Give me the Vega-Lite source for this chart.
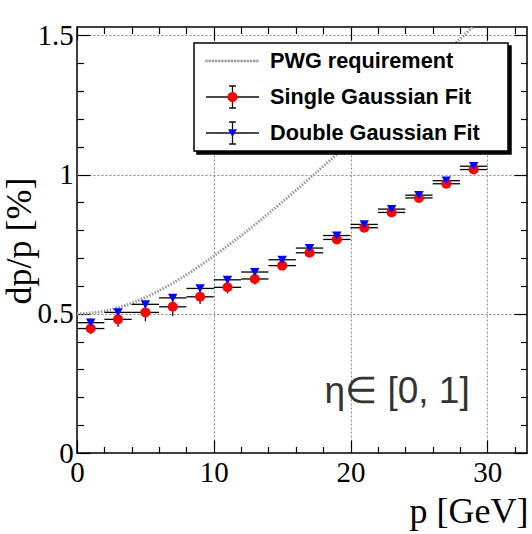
{
  "$schema": "https://vega.github.io/schema/vega-lite/v6.json",
  "width": 450,
  "height": 426,
  "autosize": "none",
  "padding": {"left": 77, "top": 27, "right": 5, "bottom": 81},
  "background": "white",
  "datasets": {
    "curve": [
      {"p": 0, "v": 0.5}, {"p": 1, "v": 0.5025}, {"p": 2, "v": 0.5099}, {"p": 3, "v": 0.522},
      {"p": 4, "v": 0.5385}, {"p": 5, "v": 0.559}, {"p": 6, "v": 0.5831}, {"p": 7, "v": 0.6103},
      {"p": 8, "v": 0.6403}, {"p": 9, "v": 0.6727}, {"p": 10, "v": 0.7071}, {"p": 11, "v": 0.7433},
      {"p": 12, "v": 0.781}, {"p": 13, "v": 0.8201}, {"p": 14, "v": 0.8602}, {"p": 15, "v": 0.9014},
      {"p": 16, "v": 0.9434}, {"p": 17, "v": 0.9862}, {"p": 18, "v": 1.0296}, {"p": 19, "v": 1.0735},
      {"p": 20, "v": 1.118}, {"p": 21, "v": 1.163}, {"p": 22, "v": 1.2083}, {"p": 23, "v": 1.254},
      {"p": 24, "v": 1.3}, {"p": 25, "v": 1.3463}, {"p": 26, "v": 1.3928}, {"p": 27, "v": 1.4396},
      {"p": 28, "v": 1.4866}, {"p": 29, "v": 1.5338}, {"p": 30, "v": 1.5811}
    ],
    "points": [
      {"series": "Single Gaussian Fit", "p": 1, "w": 1, "v": 0.447, "e": 0.02},
      {"series": "Single Gaussian Fit", "p": 3, "w": 1, "v": 0.48, "e": 0.027},
      {"series": "Single Gaussian Fit", "p": 5, "w": 1, "v": 0.505, "e": 0.032},
      {"series": "Single Gaussian Fit", "p": 7, "w": 1, "v": 0.525, "e": 0.034},
      {"series": "Single Gaussian Fit", "p": 9, "w": 1, "v": 0.561, "e": 0.026},
      {"series": "Single Gaussian Fit", "p": 11, "w": 1, "v": 0.595, "e": 0.022},
      {"series": "Single Gaussian Fit", "p": 13, "w": 1, "v": 0.625, "e": 0.02},
      {"series": "Single Gaussian Fit", "p": 15, "w": 1, "v": 0.673, "e": 0.015},
      {"series": "Single Gaussian Fit", "p": 17, "w": 1, "v": 0.719, "e": 0.013},
      {"series": "Single Gaussian Fit", "p": 19, "w": 1, "v": 0.767, "e": 0.011},
      {"series": "Single Gaussian Fit", "p": 21, "w": 1, "v": 0.809, "e": 0.01},
      {"series": "Single Gaussian Fit", "p": 23, "w": 1, "v": 0.864, "e": 0.01},
      {"series": "Single Gaussian Fit", "p": 25, "w": 1, "v": 0.916, "e": 0.009},
      {"series": "Single Gaussian Fit", "p": 27, "w": 1, "v": 0.967, "e": 0.009},
      {"series": "Single Gaussian Fit", "p": 29, "w": 1, "v": 1.018, "e": 0.009},
      {"series": "Double Gaussian Fit", "p": 1, "w": 1, "v": 0.468, "e": 0.015},
      {"series": "Double Gaussian Fit", "p": 3, "w": 1, "v": 0.505, "e": 0.013},
      {"series": "Double Gaussian Fit", "p": 5, "w": 1, "v": 0.534, "e": 0.012},
      {"series": "Double Gaussian Fit", "p": 7, "w": 1, "v": 0.557, "e": 0.012},
      {"series": "Double Gaussian Fit", "p": 9, "w": 1, "v": 0.591, "e": 0.011},
      {"series": "Double Gaussian Fit", "p": 11, "w": 1, "v": 0.622, "e": 0.011},
      {"series": "Double Gaussian Fit", "p": 13, "w": 1, "v": 0.65, "e": 0.01},
      {"series": "Double Gaussian Fit", "p": 15, "w": 1, "v": 0.694, "e": 0.01},
      {"series": "Double Gaussian Fit", "p": 17, "w": 1, "v": 0.736, "e": 0.009},
      {"series": "Double Gaussian Fit", "p": 19, "w": 1, "v": 0.781, "e": 0.009},
      {"series": "Double Gaussian Fit", "p": 21, "w": 1, "v": 0.821, "e": 0.008},
      {"series": "Double Gaussian Fit", "p": 23, "w": 1, "v": 0.876, "e": 0.008},
      {"series": "Double Gaussian Fit", "p": 25, "w": 1, "v": 0.926, "e": 0.008},
      {"series": "Double Gaussian Fit", "p": 27, "w": 1, "v": 0.978, "e": 0.008},
      {"series": "Double Gaussian Fit", "p": 29, "w": 1, "v": 1.03, "e": 0.008}
    ]
  },
  "layer": [
    {
      "data": {"values": []},
      "mark": {"type": "point", "filled": true, "opacity": 1},
      "encoding": {
        "shape": {
          "field": "series", "type": "nominal",
          "scale": {"domain": ["PWG requirement", "Single Gaussian Fit", "Double Gaussian Fit"], "range": ["circle", "circle", "circle"]},
          "legend": {"title": null, "orient": "none", "legendX": 120, "legendY": 19, "fillColor": "black", "strokeColor": "black", "symbolOpacity": 0, "labelOffset": 243, "labelExpr": "''"}
        }
      }
    },
    {
      "data": {"values": []},
      "mark": {"type": "point", "filled": true, "opacity": 1},
      "encoding": {
        "shape": {
          "field": "series", "type": "nominal",
          "scale": {"domain": ["PWG requirement", "Single Gaussian Fit", "Double Gaussian Fit"], "range": ["square", "square", "square"]},
          "legend": {"title": null, "orient": "none", "legendX": 117, "legendY": 16, "fillColor": "white", "strokeColor": "black", "symbolOpacity": 0, "labelOffset": 243, "labelExpr": "''"}
        }
      }
    },
    {
      "data": {"name": "curve"},
      "mark": {"type": "line", "stroke": "#9a9a9a", "strokeWidth": 3, "strokeDash": [1.5, 1.5], "clip": true, "interpolate": "monotone"},
      "encoding": {
        "x": {
          "field": "p", "type": "quantitative",
          "scale": {"domain": [0, 32.9], "nice": false, "zero": false},
          "axis": {
            "orient": "bottom",
            "values": [0, 2, 4, 6, 8, 10, 12, 14, 16, 18, 20, 22, 24, 26, 28, 30, 32],
            "labelExpr": "datum.value % 10 === 0 ? datum.label : ''",
            "tickSize": {"condition": {"test": "datum.value % 10 === 0", "value": -13}, "value": -6.5},
            "grid": true,
            "gridOpacity": {"condition": {"test": "datum.value % 10 === 0 && datum.value > 0", "value": 1}, "value": 0},
            "labelPadding": 18.7,
            "labelFlush": false,
            "labelOverlap": false,
            "title": "p [GeV]",
            "titleAnchor": "end",
            "titleAlign": "right",
            "titleBaseline": "alphabetic",
            "titleX": 451,
            "titleY": 69
          }
        },
        "y": {
          "field": "v", "type": "quantitative",
          "scale": {"domain": [0, 1.53], "nice": false, "zero": false},
          "axis": {
            "orient": "left",
            "values": [0, 0.1, 0.2, 0.3, 0.4, 0.5, 0.6, 0.7, 0.8, 0.9, 1, 1.1, 1.2, 1.3, 1.4, 1.5],
            "labelExpr": "round(datum.value*10) % 5 === 0 ? format(datum.value, '.2~f') : ''",
            "tickSize": {"condition": {"test": "round(datum.value*10) % 5 === 0", "value": -13}, "value": -6.5},
            "grid": true,
            "gridOpacity": {"condition": {"test": "round(datum.value*10) % 5 === 0 && datum.value > 0", "value": 1}, "value": 0},
            "labelPadding": 16.8,
            "labelFlush": false,
            "labelOverlap": false,
            "title": "dp/p [%]",
            "titleAngle": 270,
            "titleAlign": "right",
            "titleBaseline": "alphabetic",
            "titleX": -47,
            "titleY": 150
          }
        }
      }
    },
    {
      "data": {"name": "points"},
      "mark": {"type": "errorbar", "color": "black", "thickness": 1.3},
      "encoding": {
        "x": {"field": "p", "type": "quantitative", "axis": null},
        "xError": {"field": "w"},
        "y": {"field": "v", "type": "quantitative", "axis": null}
      }
    },
    {
      "data": {"name": "points"},
      "mark": {"type": "errorbar", "color": "black", "thickness": 1.2},
      "encoding": {
        "x": {"field": "p", "type": "quantitative", "axis": null},
        "y": {"field": "v", "type": "quantitative", "axis": null},
        "yError": {"field": "e"}
      }
    },
    {
      "data": {"name": "points"},
      "transform": [{"filter": "datum.series === 'Single Gaussian Fit'"}],
      "mark": {"type": "point", "shape": "circle", "filled": true, "fill": "#ff0000", "size": 100, "strokeWidth": 0, "opacity": 1},
      "encoding": {
        "x": {
          "field": "p", "type": "quantitative",
          "axis": {
            "orient": "top",
            "values": [0, 2, 4, 6, 8, 10, 12, 14, 16, 18, 20, 22, 24, 26, 28, 30, 32],
            "tickSize": {"condition": {"test": "datum.value % 10 === 0", "value": -13}, "value": -6.5},
            "labels": false, "grid": false, "title": null
          }
        },
        "y": {
          "field": "v", "type": "quantitative",
          "axis": {
            "orient": "right",
            "values": [0, 0.1, 0.2, 0.3, 0.4, 0.5, 0.6, 0.7, 0.8, 0.9, 1, 1.1, 1.2, 1.3, 1.4, 1.5],
            "tickSize": {"condition": {"test": "round(datum.value*10) % 5 === 0", "value": -13}, "value": -6.5},
            "labels": false, "grid": false, "title": null
          }
        }
      }
    },
    {
      "data": {"name": "points"},
      "transform": [{"filter": "datum.series === 'Double Gaussian Fit'"}],
      "mark": {"type": "point", "shape": "triangle-down", "filled": true, "fill": "#0000ff", "size": 90, "strokeWidth": 0, "opacity": 1},
      "encoding": {
        "x": {"field": "p", "type": "quantitative", "axis": null},
        "y": {"field": "v", "type": "quantitative", "axis": null}
      }
    },
    {
      "data": {"values": []},
      "mark": {"type": "point", "filled": false, "opacity": 1},
      "encoding": {
        "shape": {
          "field": "series", "type": "nominal",
          "scale": {
            "domain": ["PWG requirement", "Single Gaussian Fit", "Double Gaussian Fit"],
            "range": [
              "M-1,-0.02h0.04v0.04h-0.04zM-0.88,-0.02h0.04v0.04h-0.04zM-0.76,-0.02h0.04v0.04h-0.04zM-0.64,-0.02h0.04v0.04h-0.04zM-0.52,-0.02h0.04v0.04h-0.04zM-0.4,-0.02h0.04v0.04h-0.04zM-0.28,-0.02h0.04v0.04h-0.04zM-0.16,-0.02h0.04v0.04h-0.04zM-0.04,-0.02h0.04v0.04h-0.04zM0.08,-0.02h0.04v0.04h-0.04zM0.2,-0.02h0.04v0.04h-0.04zM0.32,-0.02h0.04v0.04h-0.04zM0.44,-0.02h0.04v0.04h-0.04zM0.56,-0.02h0.04v0.04h-0.04zM0.68,-0.02h0.04v0.04h-0.04zM0.8,-0.02h0.04v0.04h-0.04zM0.92,-0.02h0.04v0.04h-0.04z",
              "M-1,0H1M0,-0.415V0.415M-0.13,-0.415H0.13M-0.13,0.415H0.13",
              "M-1,0H1M0,-0.415V0.415M-0.13,-0.415H0.13M-0.13,0.415H0.13"
            ]
          },
          "legend": {"title": null, "orient": "none", "legendX": 117, "legendY": 16, "fillColor": "transparent", "strokeColor": "transparent", "labelColor": "black", "symbolFillColor": "transparent", "symbolOpacity": 1, "labelFontSize": 21.7}
        },
        "stroke": {
          "field": "series", "type": "nominal",
          "scale": {"domain": ["PWG requirement", "Single Gaussian Fit", "Double Gaussian Fit"], "range": ["#9a9a9a", "#111111", "#111111"]},
          "legend": {"title": null, "orient": "none", "legendX": 117, "legendY": 16, "fillColor": "transparent", "strokeColor": "transparent", "labelColor": "black", "symbolFillColor": "transparent", "symbolOpacity": 1, "labelFontSize": 21.7}
        }
      }
    },
    {
      "data": {"values": []},
      "mark": {"type": "point", "filled": true, "opacity": 1},
      "encoding": {
        "shape": {
          "field": "series", "type": "nominal",
          "scale": {
            "domain": ["PWG requirement", "Single Gaussian Fit", "Double Gaussian Fit"],
            "range": [
              "M0,0",
              "M-0.19,0A0.19,0.19,0,1,0,0.19,0A0.19,0.19,0,1,0,-0.19,0Z",
              "M-0.17,-0.14L0.17,-0.14L0,0.15Z"
            ]
          },
          "legend": {"title": null, "orient": "none", "legendX": 117, "legendY": 16, "symbolStrokeColor": "transparent", "symbolOpacity": 1, "labelExpr": "''"}
        },
        "fill": {
          "field": "series", "type": "nominal",
          "scale": {"domain": ["PWG requirement", "Single Gaussian Fit", "Double Gaussian Fit"], "range": ["transparent", "#ff0000", "#0000ff"]},
          "legend": {"title": null, "orient": "none", "legendX": 117, "legendY": 16, "symbolStrokeColor": "transparent", "symbolOpacity": 1, "labelExpr": "''"}
        }
      }
    },
    {
      "data": {"values": [{"label": "η∈ [0, 1]"}]},
      "mark": {"type": "text", "font": "Liberation Sans", "fontSize": 37, "align": "left", "baseline": "alphabetic", "color": "#333333"},
      "encoding": {
        "text": {"field": "label", "type": "nominal"},
        "x": {"datum": 18.1, "type": "quantitative", "axis": null},
        "y": {"datum": 0.18, "type": "quantitative", "axis": null}
      }
    }
  ],
  "resolve": {
    "scale": {"shape": "independent", "fill": "independent", "stroke": "independent"},
    "axis": {"x": "independent", "y": "independent"}
  },
  "config": {
    "view": {"stroke": "black", "strokeWidth": 1.5},
    "axis": {
      "domain": false,
      "labelFont": "Liberation Serif",
      "labelFontSize": 29,
      "labelColor": "black",
      "titleFont": "Liberation Serif",
      "titleFontSize": 36,
      "titleFontWeight": "normal",
      "titleColor": "black",
      "tickColor": "black",
      "tickWidth": 1.2,
      "gridColor": "#888888",
      "gridDash": [2, 2],
      "gridWidth": 1
    },
    "legend": {
      "labelFont": "Liberation Sans",
      "labelFontWeight": "bold",
      "labelFontSize": 21,
      "labelLimit": 400,
      "symbolSize": 2809,
      "symbolStrokeWidth": 1.3,
      "clipHeight": 26,
      "padding": 5,
      "rowPadding": 10,
      "symbolOffset": 6,
      "labelOffset": 10,
      "strokeWidth": 1.5
    }
  }
}
